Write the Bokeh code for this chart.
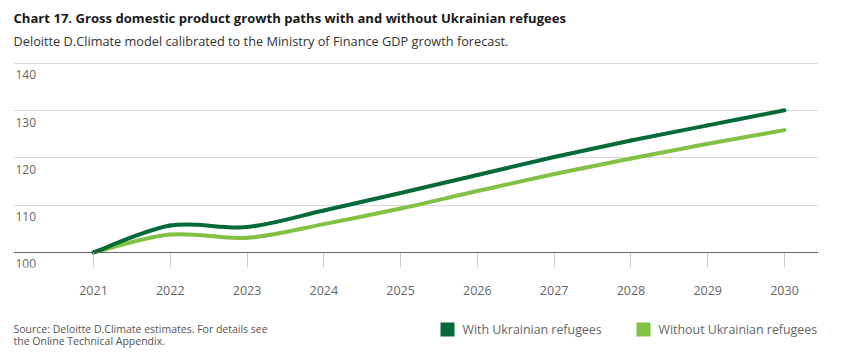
import numpy as np
from bokeh.plotting import figure
from bokeh.layouts import column
from bokeh.models import Label, FixedTicker, Range1d, Span, BoxAnnotation
from bokeh.embed import file_html
from bokeh.resources import INLINE

# ---------------- data ----------------
years = [2021, 2022, 2023, 2024, 2025, 2026, 2027, 2028, 2029, 2030]
with_refugees = [100.0, 105.7, 105.4, 108.9, 112.6, 116.4, 120.2, 123.7, 126.9, 130.1]
without_refugees = [100.0, 103.8, 103.1, 106.0, 109.3, 113.0, 116.6, 119.9, 123.0, 125.9]
y_ticks = [100, 110, 120, 130, 140]
series_names = ["With Ukrainian refugees", "Without Ukrainian refugees"]

title_text = "Chart 17. Gross domestic product growth paths with and without Ukrainian refugees"
subtitle_text = "Deloitte D.Climate model calibrated to the Ministry of Finance GDP growth forecast."
source_lines = ["Source: Deloitte D.Climate estimates. For details see",
                "the Online Technical Appendix."]

# ---------------- style ----------------
FONT = "Open Sans"
DARK = "#046A38"
LIGHT = "#82C143"
colors = [DARK, LIGHT]
W = 834
BL, BR = 13, 16  # left/right borders (frames of both figures are aligned)

p = figure(width=W, height=307, output_backend="svg", toolbar_location=None,
           x_range=Range1d(2019.958, 2030.443), y_range=Range1d(96.825, 153.33),
           min_border_left=BL, min_border_right=BR, min_border_top=0,
           min_border_bottom=40)
p.outline_line_color = None
p.background_fill_color = "white"
p.border_fill_color = "white"

p.yaxis.visible = False
p.xgrid.visible = False
p.ygrid.ticker = FixedTicker(ticks=[t for t in y_ticks if t > y_ticks[0]])
p.ygrid.grid_line_color = "#d9d9d9"
p.ygrid.grid_line_width = 1

# baseline at the lowest tick
p.add_layout(Span(location=y_ticks[0], dimension="width", line_color="#666666", line_width=1))

xa = p.xaxis[0]
xa.ticker = FixedTicker(ticks=years)
xa.axis_line_color = None
xa.major_tick_line_color = "#cccccc"
xa.major_tick_in = 15
xa.major_tick_out = 0
xa.minor_tick_line_color = None
xa.major_label_text_font = FONT
xa.major_label_text_font_size = "12.5px"
xa.major_label_text_color = "#666666"
xa.major_label_standoff = 18


def bezier_segments(xs, ys):
    xs = np.asarray(xs, dtype=float)
    ys = np.asarray(ys, dtype=float)
    xp = np.concatenate([[xs[0]], xs, [xs[-1]]])
    yp = np.concatenate([[ys[0]], ys, [ys[-1]]])
    n = len(xs) - 1
    x0, y0 = xs[:-1], ys[:-1]
    x1, y1 = xs[1:], ys[1:]
    cx0 = x0 + (xp[2:n + 2] - xp[0:n]) / 6.0
    cy0 = y0 + (yp[2:n + 2] - yp[0:n]) / 6.0
    cx1 = x1 - (xp[3:n + 3] - xp[1:n + 1]) / 6.0
    cy1 = y1 - (yp[3:n + 3] - yp[1:n + 1]) / 6.0
    return dict(x0=x0, y0=y0, x1=x1, y1=y1, cx0=cx0, cy0=cy0, cx1=cx1, cy1=cy1)


for vals, col in [(without_refugees, LIGHT), (with_refugees, DARK)]:
    seg = bezier_segments(years, vals)
    p.bezier(line_color=col, line_width=4, line_cap="round", **seg)

# y tick labels (below each gridline, inside plot)
for t in y_ticks:
    p.add_layout(Label(x=p.x_range.start, y=t, text=str(t), x_offset=2, y_offset=-7,
                       text_baseline="top", text_align="left",
                       text_font=FONT, text_font_size="12px", text_color="#666666"))

# title & subtitle
p.add_layout(Label(x=0, y=250, x_units="screen", y_units="screen", text=title_text,
                   text_baseline="middle", text_font=FONT, text_font_style="bold",
                   text_font_size="13.1px", text_color="#1a1a1a"))
p.add_layout(Label(x=0, y=227, x_units="screen", y_units="screen", text=subtitle_text,
                   text_baseline="middle", text_font=FONT,
                   text_font_size="12.75px", text_color="#333333"))

# ---------------- bottom strip: source + legend ----------------
BH = 47
b = figure(width=W, height=BH, output_backend="svg", toolbar_location=None,
           x_range=Range1d(0, W - BL - BR), y_range=Range1d(0, BH),
           min_border_left=BL, min_border_right=BR, min_border_top=0, min_border_bottom=0,
           x_axis_type=None, y_axis_type=None)
b.outline_line_color = None
b.xgrid.visible = False
b.ygrid.visible = False
b.background_fill_color = "white"
b.border_fill_color = "white"

# legend: swatch + label for each series (screen units, relative to frame)
legend_x = [427, 623]
for name, col, lx in zip(series_names, colors, legend_x):
    b.add_layout(BoxAnnotation(left=lx, right=lx + 14, bottom=18, top=32,
                               left_units="screen", right_units="screen",
                               bottom_units="screen", top_units="screen",
                               fill_color=col, fill_alpha=1.0, line_color=None))
    b.add_layout(Label(x=lx + 22, y=25, x_units="screen", y_units="screen", text=name,
                       text_baseline="middle", text_font=FONT,
                       text_font_size="12.4px", text_color="#666666"))

for i, line in enumerate(source_lines):
    b.add_layout(Label(x=0, y=26 - 12 * i, x_units="screen", y_units="screen", text=line,
                       text_baseline="middle", text_font=FONT,
                       text_font_size="10.5px", text_color="#555555"))

layout = column(p, b, spacing=0)
open("out.html", "w").write(file_html(layout, INLINE))
